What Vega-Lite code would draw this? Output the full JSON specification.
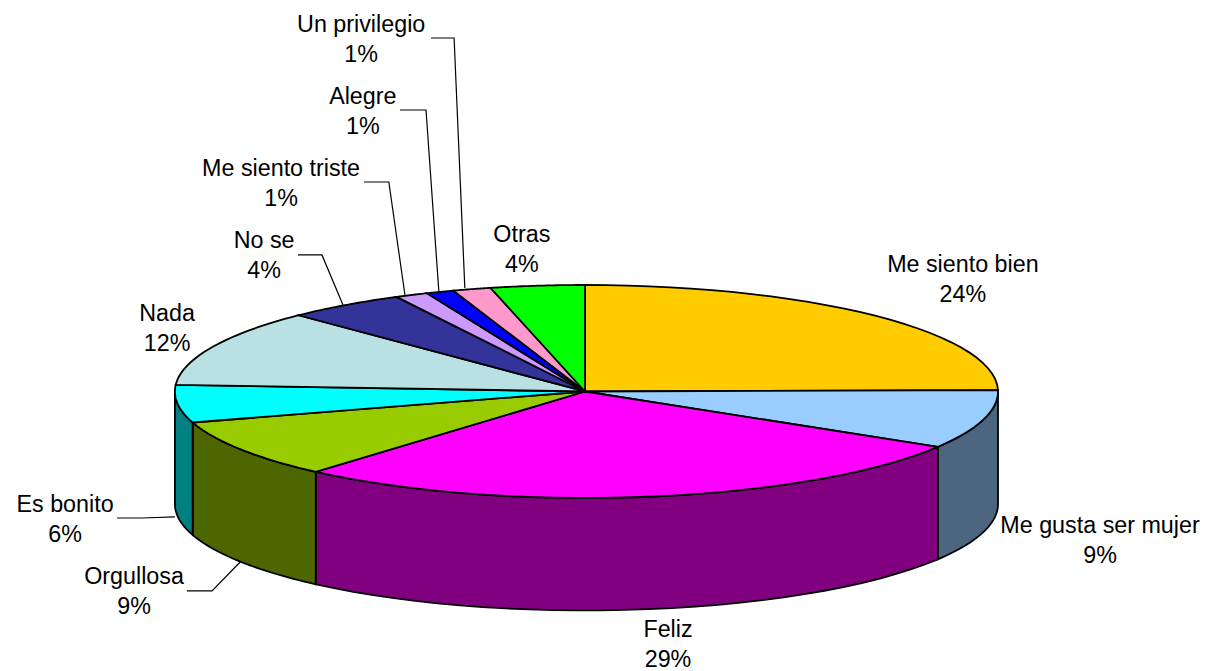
{
"$schema":"https://vega.github.io/schema/vega-lite/v6.json",
"width":1205,"height":671,"padding":0,
"autosize":{"type":"none"},
"background":"white",
"config":{"view":{"stroke":null}},
"data":{"values":[
{"n":1,"slice":"Me siento bien","share":24.8,"pct":24},
{"n":2,"slice":"Me gusta ser mujer","share":8.9,"pct":9},
{"n":3,"slice":"Feliz","share":27.7,"pct":29},
{"n":4,"slice":"Orgullosa","share":8.9,"pct":9},
{"n":5,"slice":"Es bonito","share":5.7,"pct":6},
{"n":6,"slice":"Nada","share":11.7,"pct":12},
{"n":7,"slice":"No se","share":4.7,"pct":4},
{"n":8,"slice":"Me siento triste","share":1.3,"pct":1},
{"n":9,"slice":"Alegre","share":1.1,"pct":1},
{"n":10,"slice":"Un privilegio","share":1.5,"pct":1},
{"n":11,"slice":"Otras","share":3.7,"pct":4}
]},
"transform":[
{"window":[{"op":"sum","field":"share","as":"cum"}],"sort":[{"field":"n","order":"ascending"}],"ignorePeers":true},
{"calculate":"(datum.cum-datum.share)*PI/50","as":"a0"},
{"calculate":"datum.cum*PI/50","as":"a1"}
],
"encoding":{
"x":{"field":"ux","type":"quantitative","axis":null,"scale":{"domain":[-1.4165,1.5012],"nice":false,"zero":false}},
"y":{"field":"uy","type":"quantitative","axis":null,"scale":{"domain":[-2.6385,3.662],"nice":false,"zero":false}}
},
"layer":[
{
"transform":[
{"calculate":"max(datum.a0,PI/2)","as":"w0"},
{"calculate":"min(datum.a1,3*PI/2)","as":"w1"},
{"filter":"datum.w1>datum.w0"},
{"calculate":"sequence(0,62)","as":"p"},
{"flatten":["p"]},
{"calculate":"datum.p<=30?datum.p/30:(61-datum.p)/30","as":"f"},
{"calculate":"datum.w0+(datum.w1-datum.w0)*datum.f","as":"a"},
{"calculate":"sin(datum.a)*(sin(datum.a)<0?0.993:1)","as":"ux"},
{"calculate":"cos(datum.a)-0.014-(datum.p>30?1.056:0)","as":"uy"},
{"calculate":"'wall '+datum.slice","as":"key"}
],
"mark":{"type":"line","stroke":"black","strokeWidth":1.8,"interpolate":"linear-closed"},
"encoding":{
"fill":{"field":"key","type":"nominal","legend":null,"scale":{"domain":["Me siento bien","Me gusta ser mujer","Feliz","Orgullosa","Es bonito","Nada","No se","Me siento triste","Alegre","Un privilegio","Otras","wall Me gusta ser mujer","wall Feliz","wall Orgullosa","wall Es bonito"],"range":["#FFCC00","#99CCFF","#FF00FF","#99CC00","#00FFFF","#B9E0E3","#333399","#CC99FF","#0000FF","#FF99CC","#00FF00","#4D6680","#800080","#4D6600","#008080"]}},
"order":{"field":"p","type":"quantitative"}
}
},
{
"transform":[
{"calculate":"sequence(0,32)","as":"p"},
{"flatten":["p"]},
{"calculate":"datum.a0+(datum.a1-datum.a0)*datum.p/30","as":"a"},
{"calculate":"datum.p>30?0:sin(datum.a)*(sin(datum.a)<0?0.993:1)","as":"ux"},
{"calculate":"(datum.p>30?0:cos(datum.a))-0.014","as":"uy"},
{"calculate":"datum.slice","as":"key"}
],
"mark":{"type":"line","stroke":"black","strokeWidth":1.8,"interpolate":"linear-closed"},
"encoding":{
"fill":{"field":"key","type":"nominal","legend":null},
"order":{"field":"p","type":"quantitative"}
}
},
{
"transform":[
{"calculate":"{'Un privilegio':[-0.373,3.305,-0.317,3.305,-0.291,0.958],'Alegre':[-0.448,2.629,-0.385,2.629,-0.354,0.93],'Me siento triste':[-0.535,1.953,-0.475,1.953,-0.436,0.892],'No se':[-0.695,1.268,-0.637,1.268,-0.586,0.798],'Es bonito':[-1.133,-1.202,-1.073,-1.202,-0.993,-1.192],'Orgullosa':[-0.964,-1.887,-0.903,-1.887,-0.835,-1.615]}[datum.slice]","as":"leader"},
{"filter":"isArray(datum.leader)"},
{"calculate":"[0,1,2]","as":"i"},
{"flatten":["i"]},
{"calculate":"datum.leader[2*datum.i]","as":"ux"},
{"calculate":"datum.leader[2*datum.i+1]","as":"uy"}
],
"mark":{"type":"line","stroke":"black","strokeWidth":1.2},
"encoding":{
"detail":{"field":"slice"},
"order":{"field":"i","type":"quantitative"}
}
},
{
"transform":[
{"calculate":"{'Me siento bien':[0.915,1.042],'Me gusta ser mujer':[1.247,-1.408],'Feliz':[0.201,-2.385],'Orgullosa':[-1.092,-1.887],'Es bonito':[-1.259,-1.211],'Nada':[-1.012,0.582],'No se':[-0.777,1.268],'Me siento triste':[-0.736,1.944],'Alegre':[-0.538,2.62],'Un privilegio':[-0.542,3.296],'Otras':[-0.153,1.324]}[datum.slice]","as":"anchor"},
{"calculate":"datum.anchor[0]","as":"ux"},
{"calculate":"datum.anchor[1]","as":"uy"},
{"calculate":"datum.slice+'\\n'+datum.pct+'%'","as":"label"}
],
"mark":{"type":"text","font":"Liberation Sans","fontSize":23.3,"lineHeight":30,"lineBreak":"\n","align":"center","baseline":"middle","dy":-14,"color":"#000000"},
"encoding":{"text":{"field":"label","type":"nominal"}}
}
]
}
